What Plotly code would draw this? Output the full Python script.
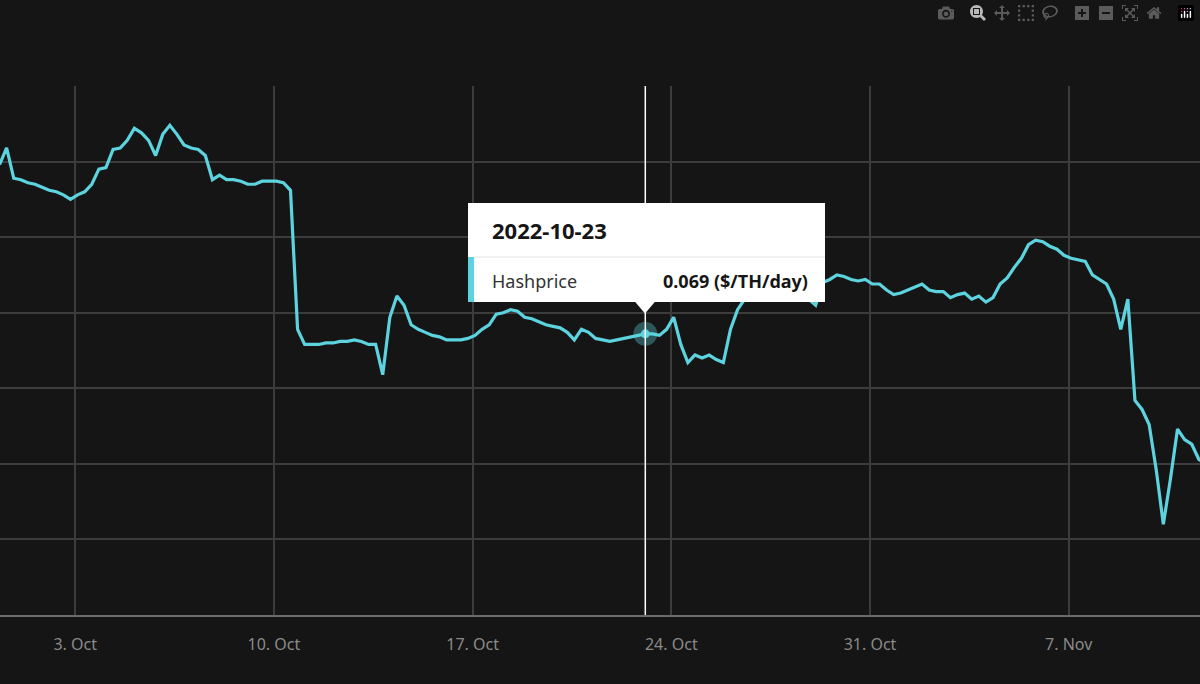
import plotly.graph_objects as go
import pandas as pd

start = "2022-09-30 08:00"
values = [
    0.0798, 0.0809, 0.0789, 0.0788, 0.0786, 0.0785, 0.0783, 0.0781, 0.0780, 0.0778,
    0.0775, 0.0778, 0.0780, 0.0785, 0.0795, 0.0796, 0.0808, 0.0809, 0.0814, 0.0822,
    0.0819, 0.0814, 0.0804, 0.0818, 0.0824, 0.0818, 0.0811, 0.0809, 0.0808, 0.0804,
    0.0788, 0.0791, 0.0788, 0.0788, 0.0787, 0.0785, 0.0785, 0.0787, 0.0787, 0.0787,
    0.0786, 0.0781, 0.0689, 0.0679, 0.0679, 0.0679, 0.0680, 0.0680, 0.0681, 0.0681,
    0.0682, 0.0681, 0.0679, 0.0679, 0.0659, 0.0697, 0.0711, 0.0705, 0.0692, 0.0689,
    0.0687, 0.0685, 0.0684, 0.0682, 0.0682, 0.0682, 0.0683, 0.0685, 0.0689, 0.0692,
    0.0699, 0.0700, 0.0702, 0.0701, 0.0697, 0.0696, 0.0694, 0.0692, 0.0691, 0.0690,
    0.0687, 0.0682, 0.0689, 0.0687, 0.0683, 0.0682, 0.0681, 0.0682, 0.0683, 0.0684,
    0.0685, 0.0686, 0.0686, 0.0685, 0.0689, 0.0697, 0.0679, 0.0667, 0.0672, 0.0670,
    0.0672, 0.0669, 0.0667, 0.0689, 0.0702, 0.0709, 0.0719, 0.0723, 0.0725, 0.0728,
    0.0730, 0.0727, 0.0725, 0.0722, 0.0709, 0.0705, 0.0720, 0.0722, 0.0725, 0.0724,
    0.0722, 0.0721, 0.0722, 0.0719, 0.0719, 0.0715, 0.0712, 0.0713, 0.0715, 0.0717,
    0.0719, 0.0715, 0.0714, 0.0714, 0.0710, 0.0712, 0.0713, 0.0709, 0.0711, 0.0707,
    0.0710, 0.0719, 0.0723, 0.0730, 0.0736, 0.0745, 0.0748, 0.0747, 0.0744, 0.0742,
    0.0738, 0.0736, 0.0735, 0.0734, 0.0725, 0.0722, 0.0719, 0.0709, 0.0689, 0.0709,
    0.0642, 0.0636, 0.0626, 0.0596, 0.0560, 0.0590, 0.0623, 0.0616,
    0.0613, 0.0603, 0.0600,
]
dates = pd.date_range(start, periods=len(values), freq="6h")
hover_i = 91
hover_label = "2022-10-23"
series_name = "Hashprice"

cyan = "#5cd3de"
bg = "#151515"

fig = go.Figure()
fig.add_trace(go.Scatter(x=dates, y=values, mode="lines",
                         line=dict(color=cyan, width=3.2), hoverinfo="skip"))
fig.add_trace(go.Scatter(x=[dates[hover_i]], y=[values[hover_i]], mode="markers",
                         marker=dict(size=24, color="rgba(92,211,222,0.35)"), hoverinfo="skip"))
fig.add_trace(go.Scatter(x=[dates[hover_i]], y=[values[hover_i]], mode="markers",
                         marker=dict(size=9, color=cyan), hoverinfo="skip"))

fig.add_shape(type="line", xref="x", yref="paper", x0=dates[hover_i], x1=dates[hover_i],
              y0=0, y1=1, line=dict(color="white", width=1.5))

# tooltip box (paper coords)
fig.add_shape(type="rect", xref="paper", yref="paper", x0=0.39, x1=0.6875,
              y0=0.5917, y1=0.7788, fillcolor="white", line=dict(width=0))
fig.add_shape(type="path", xref="paper", yref="paper",
              path="M 0.529 0.5925 L 0.546 0.5925 L 0.5375 0.570 Z",
              fillcolor="white", line=dict(width=0))
fig.add_shape(type="rect", xref="paper", yref="paper", x0=0.39, x1=0.395,
              y0=0.5917, y1=0.6767, fillcolor=cyan, line=dict(width=0))
fig.add_shape(type="line", xref="paper", yref="paper", x0=0.395, x1=0.6875,
              y0=0.6767, y1=0.6767, line=dict(color="#e4e4e4", width=1))
fig.add_annotation(xref="paper", yref="paper", x=0.408, y=0.727, text="<b>" + hover_label + "</b>",
                   showarrow=False, xanchor="left", yanchor="middle",
                   font=dict(size=22, color="#161616", family="Noto Sans"))
fig.add_annotation(xref="paper", yref="paper", x=0.408, y=0.632, text=series_name,
                   showarrow=False, xanchor="left", yanchor="middle",
                   font=dict(size=18, color="#333333", family="Noto Sans"))
fig.add_annotation(xref="paper", yref="paper", x=0.675, y=0.632,
                   text="<b>%.3f ($/TH/day)</b>" % values[hover_i],
                   showarrow=False, xanchor="right", yanchor="middle",
                   font=dict(size=18, color="#161616", family="Noto Sans"))

fig.update_layout(
    width=1200, height=684, paper_bgcolor=bg, plot_bgcolor=bg,
    margin=dict(l=0, r=0, t=86, b=69), showlegend=False,
    font=dict(family="Noto Sans", color="#8a8a8a", size=16),
)
fig.update_xaxes(range=["2022-09-30 08:24", "2022-11-11 15:00"],
                 tick0="2022-10-03", dtick=7 * 86400000, tickformat="%-d. %b",
                 showgrid=True, gridcolor="#3c3c3c", gridwidth=1.5,
                 showline=True, linecolor="#6a6a6a", linewidth=1.5,
                 ticks="", ticklabelstandoff=14, zeroline=False)
fig.update_yaxes(range=[0.050, 0.085], dtick=0.005, showticklabels=False,
                 showgrid=True, gridcolor="#3c3c3c", gridwidth=1.5, zeroline=False)

fig.write_html("out.html",
               post_script="document.body.style.margin='0';document.body.style.background='#151515';")
